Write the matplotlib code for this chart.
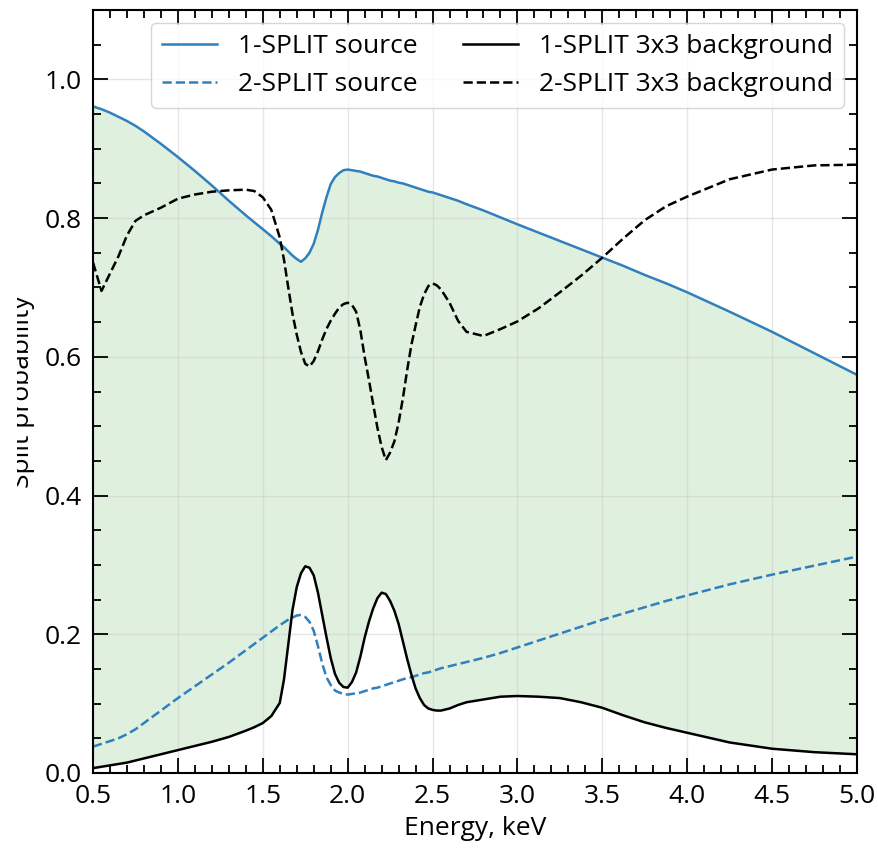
import matplotlib
matplotlib.use("Agg")
import matplotlib.pyplot as plt
from matplotlib.ticker import MultipleLocator
from matplotlib.patches import Rectangle

plt.rcParams['font.family'] = ['Open Sans', 'DejaVu Sans']
plt.rcParams['font.size'] = 19

# energy grid, keV
energy = [0.50, 0.55, 0.60, 0.65, 0.70, 0.75, 0.80, 0.90, 1.00, 1.10, 1.20, 1.30, 1.40, 1.45, 1.50, 1.55,
          1.60, 1.625, 1.65, 1.675, 1.70, 1.725, 1.75, 1.775, 1.80, 1.825, 1.85, 1.875, 1.90, 1.925, 1.95, 1.975, 2.00,
          2.025, 2.05, 2.075, 2.10, 2.125, 2.15, 2.175, 2.20, 2.225, 2.25, 2.275, 2.30, 2.325, 2.35, 2.375, 2.40,
          2.425, 2.45, 2.475, 2.50, 2.525, 2.55,
          2.60, 2.65, 2.70, 2.80, 2.90, 3.00, 3.125, 3.25, 3.375, 3.50, 3.625, 3.75, 3.875, 4.00,
          4.25, 4.50, 4.75, 5.00]

# 1-SPLIT source
src1 = [0.961, 0.957, 0.952, 0.946, 0.940, 0.933, 0.925, 0.907, 0.888, 0.868, 0.847, 0.825, 0.804, 0.794, 0.784, 0.774,
        0.763, 0.758, 0.752, 0.746, 0.741, 0.737, 0.742, 0.750, 0.763, 0.783, 0.808, 0.830, 0.849, 0.859, 0.865, 0.869, 0.870,
        0.869, 0.868, 0.867, 0.865, 0.863, 0.861, 0.860, 0.858, 0.856, 0.854, 0.853, 0.851, 0.850, 0.848, 0.846, 0.844,
        0.842, 0.840, 0.838, 0.837, 0.835, 0.833,
        0.829, 0.825, 0.820, 0.811, 0.801, 0.791, 0.779, 0.767, 0.755, 0.743, 0.731, 0.718, 0.706, 0.693,
        0.665, 0.636, 0.605, 0.574]

# 2-SPLIT source
src2 = [0.038, 0.042, 0.046, 0.050, 0.056, 0.063, 0.072, 0.090, 0.108, 0.125, 0.142, 0.159, 0.177, 0.186, 0.195, 0.204,
        0.213, 0.217, 0.221, 0.224, 0.227, 0.228, 0.225, 0.218, 0.205, 0.183, 0.158, 0.138, 0.127, 0.119, 0.116, 0.114, 0.113,
        0.114, 0.115, 0.116, 0.118, 0.120, 0.122, 0.123, 0.125, 0.127, 0.129, 0.131, 0.133, 0.135, 0.137, 0.138, 0.140,
        0.142, 0.144, 0.145, 0.147, 0.149, 0.151,
        0.154, 0.157, 0.160, 0.166, 0.173, 0.181, 0.191, 0.201, 0.211, 0.221, 0.230, 0.239, 0.248, 0.256,
        0.272, 0.286, 0.299, 0.312]

# 1-SPLIT 3x3 background
bkg1 = [0.007, 0.009, 0.011, 0.013, 0.015, 0.018, 0.021, 0.027, 0.033, 0.039, 0.045, 0.052, 0.061, 0.066, 0.072, 0.082,
        0.101, 0.135, 0.185, 0.235, 0.268, 0.288, 0.298, 0.296, 0.285, 0.260, 0.228, 0.196, 0.166, 0.143, 0.130, 0.124, 0.123,
        0.131, 0.145, 0.168, 0.195, 0.218, 0.237, 0.252, 0.260, 0.258, 0.248, 0.234, 0.215, 0.190, 0.165, 0.142, 0.122,
        0.108, 0.098, 0.093, 0.091, 0.090, 0.090,
        0.093, 0.098, 0.102, 0.106, 0.110, 0.111, 0.110, 0.108, 0.102, 0.094, 0.083, 0.073, 0.065, 0.058,
        0.044, 0.035, 0.030, 0.027]

# 2-SPLIT 3x3 background
bkg2 = [0.736, 0.695, 0.720, 0.745, 0.775, 0.796, 0.804, 0.815, 0.828, 0.834, 0.838, 0.840, 0.841, 0.839, 0.830, 0.812,
        0.772, 0.740, 0.700, 0.662, 0.632, 0.607, 0.590, 0.586, 0.594, 0.608, 0.625, 0.640, 0.652, 0.662, 0.671, 0.676, 0.678,
        0.675, 0.665, 0.638, 0.600, 0.567, 0.532, 0.498, 0.470, 0.451, 0.462, 0.478, 0.505, 0.540, 0.580, 0.617, 0.645,
        0.672, 0.690, 0.702, 0.706, 0.703, 0.697,
        0.678, 0.652, 0.636, 0.630, 0.640, 0.651, 0.670, 0.693, 0.717, 0.743, 0.771, 0.797, 0.817, 0.831,
        0.856, 0.870, 0.876, 0.877]

blue = '#2f80bd'

fig = plt.figure(figsize=(8.79, 8.5), dpi=100)
ax = fig.add_axes([93 / 879, 77 / 850, 764 / 879, 763 / 850])

ax.fill_between(energy, bkg1, src1, color='tab:green', alpha=0.15, linewidth=0)
ax.plot(energy, src1, color=blue, lw=1.8, label='1-SPLIT source')
ax.plot(energy, src2, color=blue, lw=1.8, ls='--', label='2-SPLIT source')
ax.plot(energy, bkg1, color='black', lw=1.8, label='1-SPLIT 3x3 background')
ax.plot(energy, bkg2, color='black', lw=1.8, ls='--', label='2-SPLIT 3x3 background')

ax.set_xlim(0.5, 5.0)
ax.set_ylim(0, 1.1)
ax.xaxis.set_major_locator(MultipleLocator(0.5))
ax.xaxis.set_minor_locator(MultipleLocator(0.1))
ax.yaxis.set_major_locator(MultipleLocator(0.2))
ax.yaxis.set_minor_locator(MultipleLocator(0.05))
ax.tick_params(which='both', direction='in', top=True, right=True, width=1.3)
ax.tick_params(which='major', length=10.5, pad=8)
ax.tick_params(which='minor', length=5.5)
for s in ax.spines.values():
    s.set_linewidth(1.5)
ax.grid(True, which='major', color='#cccccc', alpha=0.5, lw=1)

ax.set_xlabel('Energy, keV', labelpad=5)
ax.set_ylabel('Split probability')
ax.yaxis.set_label_coords(-58 / 764, 0.5)

ax.legend(ncol=2, loc='upper right', fancybox=True, edgecolor='#cccccc',
          columnspacing=1.7, handlelength=2.1, handletextpad=0.8,
          borderpad=0.4, labelspacing=0.5)

# the original image is cropped on the left, cutting the y label
fig.patches.append(Rectangle((0, 0), 17 / 879, 1, transform=fig.transFigure,
                             facecolor='white', edgecolor='none', zorder=10))

fig.savefig('out.png', dpi=100)
